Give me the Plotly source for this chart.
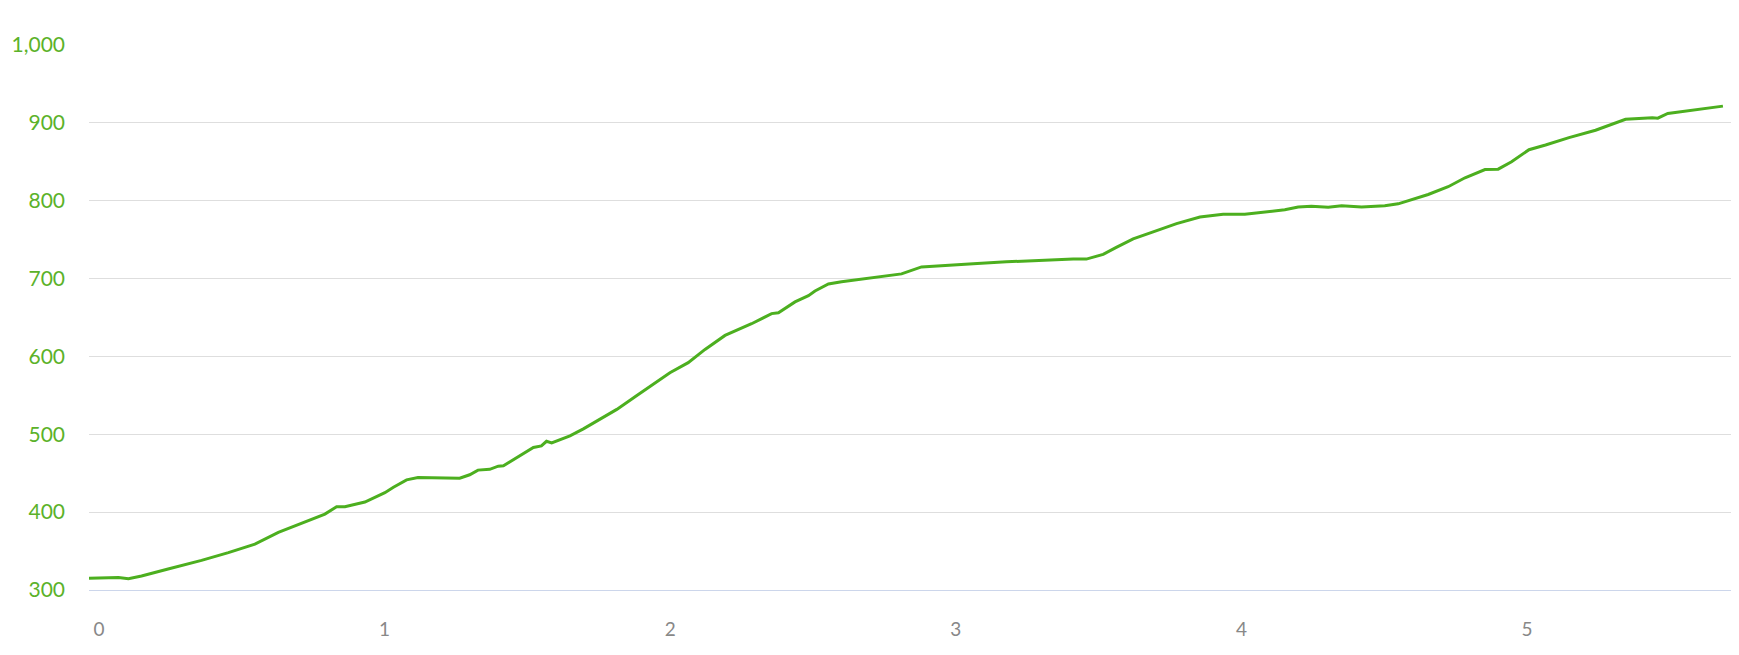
#!/usr/bin/env python3
"""Elevation profile: altitude (m) against distance (km)."""

import plotly.graph_objects as go

LINE_GREEN = "#4caf1f"
LABEL_GREEN = "#5bb22a"
GRID = "#dedede"
AXIS = "#ccd6eb"

distance_km = [
    0.000, 0.103, 0.138, 0.184, 0.277, 0.394, 0.488, 0.581, 0.663, 0.756,
    0.826, 0.867, 0.896, 0.966, 1.036, 1.066, 1.112, 1.152, 1.298, 1.333,
    1.362, 1.403, 1.433, 1.451, 1.497, 1.556, 1.584, 1.602, 1.620, 1.684,
    1.731, 1.789, 1.848, 1.917, 1.987, 2.034, 2.098, 2.157, 2.227, 2.320,
    2.390, 2.414, 2.472, 2.519, 2.542, 2.589, 2.635, 2.740, 2.845, 2.915,
    2.974, 3.031, 3.096, 3.212, 3.329, 3.446, 3.492, 3.551, 3.597, 3.656,
    3.726, 3.808, 3.890, 3.971, 4.047, 4.128, 4.187, 4.234, 4.280, 4.339,
    4.386, 4.456, 4.537, 4.584, 4.631, 4.689, 4.759, 4.818, 4.888, 4.934,
    4.981, 5.042, 5.100, 5.182, 5.275, 5.322, 5.380, 5.474, 5.493, 5.528,
    5.598, 5.668, 5.721,
]
elevation_m = [
    315, 316, 314.5, 318, 327, 338, 348, 359, 374, 388,
    397.5, 407, 407, 413, 425, 432, 441.5, 444.5, 443.5, 448,
    454, 455, 459, 459.5, 470, 483, 485, 491, 489, 498,
    507, 519.5, 532, 549.5, 567, 579, 592, 609, 627, 642,
    655, 656, 670, 678, 684, 693, 696, 701, 706, 715,
    716.5, 717, 719, 721.5, 723.5, 725, 725, 731, 740, 751,
    760, 770.5, 779, 782.5, 782.5, 785.5, 788.5, 792, 793, 791.5,
    793.5, 792, 793.5, 796, 801, 808, 818, 829.5, 840, 840.5,
    850, 865.5, 871.5, 881, 890.5, 897, 904.5, 906.5, 906, 912,
    915.5, 918.5, 921.5,
]
x_ticks = [0, 1, 2, 3, 4, 5]
y_ticks = [300, 400, 500, 600, 700, 800, 900, 1000]

fig = go.Figure(
    go.Scatter(
        x=distance_km,
        y=elevation_m,
        mode="lines",
        line=dict(color=LINE_GREEN, width=3),
        hovertemplate="%{x:.2f} km<br>%{y:.0f} m<extra></extra>",
    )
)

fig.update_layout(
    width=1739,
    height=655,
    margin=dict(l=81, r=0, t=37, b=73),
    paper_bgcolor="white",
    plot_bgcolor="white",
    showlegend=False,
    font=dict(family="Lato, 'Open Sans', sans-serif", size=18),
    xaxis=dict(
        range=[0, 1658 / 285.6],
        tickvals=x_ticks,
        showgrid=False,
        zeroline=False,
        showline=True,
        linecolor=AXIS,
        linewidth=1,
        ticks="",
        tickfont=dict(color="#888888", size=19),
        ticklabelshift=10,
        ticklabelstandoff=22,
    ),
    yaxis=dict(
        range=[300, 1000],
        tickvals=y_ticks,
        tickformat=",",
        showgrid=True,
        gridcolor=GRID,
        gridwidth=1,
        zeroline=False,
        ticks="",
        tickfont=dict(color=LABEL_GREEN, size=21),
        ticklabelstandoff=23,
    ),
)

fig.write_html("out.html", config={"displayModeBar": False})
